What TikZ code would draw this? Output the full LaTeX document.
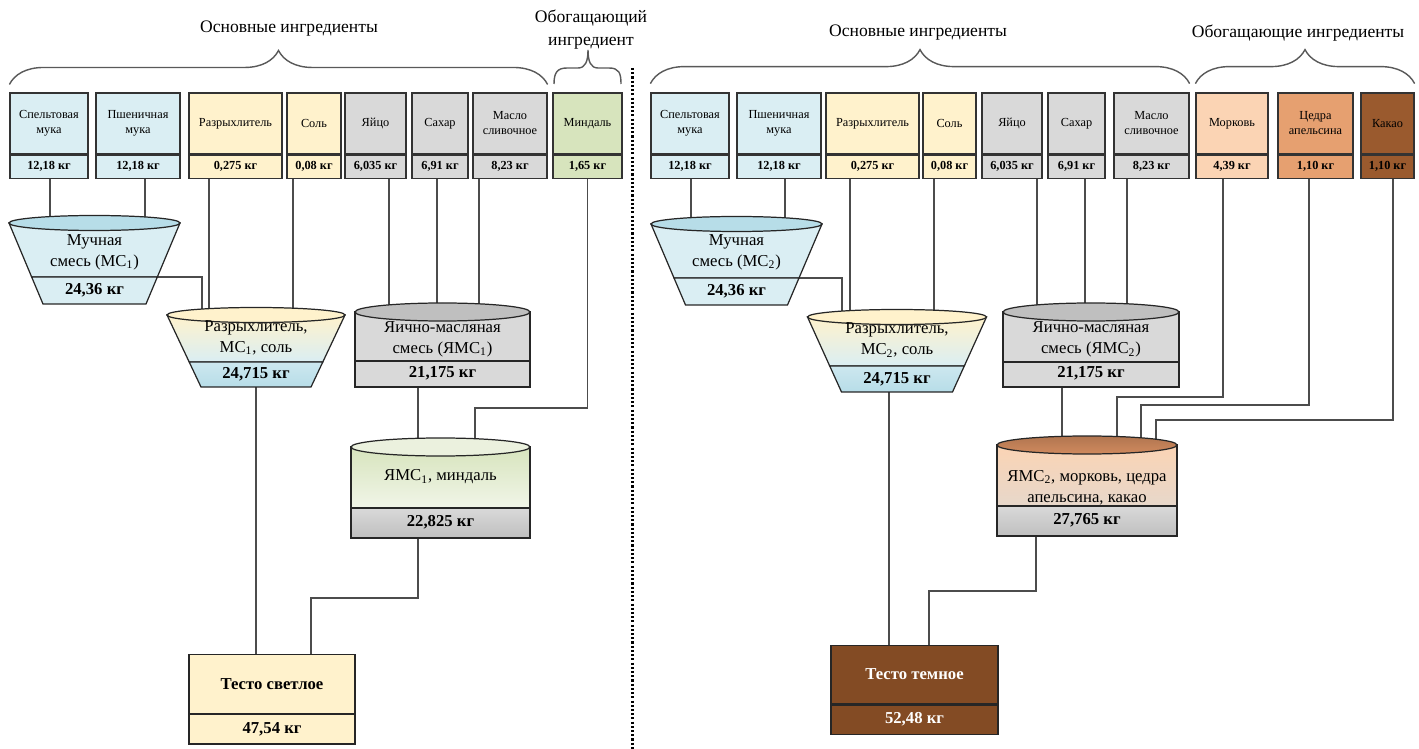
\documentclass[tikz,border=0pt]{standalone}
\usepackage{fontspec}
\setmainfont{Liberation Serif}
\usetikzlibrary{positioning,decorations.pathreplacing}
\pgfdeclarelayer{bg}
\pgfsetlayers{bg,main}

% ingredient box: name, left x, right x, fill, label, mass
\newcommand\ingbox[6]{%
  \node[ingtop, fill=#4, minimum width={(#3-#2)*0.02cm}] (#1) at ({(#2+#3)/2},123.5) {#5};
  \node[ingwt, fill=#4, minimum width={(#3-#2)*0.02cm}, below=0pt of #1] (#1w) {#6};}

% mixing cone: name, cx, top y, top half width, divider y, bottom y, bottom half width, colour set
\newcommand\mixcone[8]{%
  \pgfmathsetmacro\cdw{#4+(#7-#4)*(#5-#3)/(#6-#3)}
  \path[#8 body, vessel] ({#2-#4},#3) -- ({#2+#4},#3) -- ({#2+\cdw},#5) -- ({#2-\cdw},#5) -- cycle;
  \path[#8 low, vessel] ({#2-\cdw},#5) -- ({#2+\cdw},#5) -- ({#2+#7},#6) -- ({#2-#7},#6) -- cycle;
  \path[#8 top, vessel] (#2,#3) ellipse [x radius=#4, y radius=7.5];
  \coordinate (#1-top) at (#2,#3);
  \coordinate (#1-bot) at (#2,#6);
  \coordinate (#1-dr) at ({#2+\cdw},#5);}

% mixing drum: name, left x, right x, top y, divider y, bottom y, colour set
\newcommand\mixdrum[7]{%
  \path[#7 body, vessel] (#2,#4) rectangle (#3,#5);
  \path[#7 low, vessel] (#2,#5) rectangle (#3,#6);
  \path[#7 top, vessel] ({(#2+#3)/2},#4) ellipse [x radius={(#3-#2)/2}, y radius=9];
  \coordinate (#1-top) at ({(#2+#3)/2},#4);
  \coordinate (#1-bot) at ({(#2+#3)/2},#6);}

\begin{document}
\begin{tikzpicture}[x=0.02cm, y=-0.02cm,
    ingtop/.style={draw=black!80, line width=0.7pt, minimum height=1.22cm, align=center,
      inner sep=1pt, font=\fontsize{7}{8.5}\selectfont},
    ingwt/.style={draw=black!80, line width=0.7pt, minimum height=0.46cm, inner sep=1pt,
      font=\fontsize{7}{8.5}\selectfont\bfseries},
    mixtxt/.style={align=center, font=\fontsize{9.5}{12}\selectfont},
    mixwt/.style={font=\fontsize{9.5}{12}\selectfont\bfseries},
    doughtop/.style={draw=black!85, line width=0.7pt, minimum height=1.17cm,
      font=\fontsize{9.5}{12}\selectfont\bfseries},
    doughwt/.style={draw=black!85, line width=0.7pt, minimum height=0.59cm,
      font=\fontsize{9.5}{12}\selectfont\bfseries},
    head/.style={align=center, font=\fontsize{10}{13}\selectfont},
    conn/.style={draw=black!70, line width=0.75pt},
    vessel/.style={draw=black!85, line width=0.7pt},
    grpbrace/.style={draw=black!65, line width=0.8pt, decorate, decoration={brace, amplitude=0.68cm}},
    splitline/.style={line width=1.7pt, dash pattern=on 1.2pt off 1.2pt},
    flour top/.style={fill=flourdeep},
    flour body/.style={fill=flourblue},
    flour low/.style={fill=flourblue},
    mix top/.style={fill=leaven},
    mix body/.style={top color=leaven, bottom color=flourblue},
    mix low/.style={top color=flourdeep!70, bottom color=flourdeep},
    egg top/.style={fill=eggdeep},
    egg body/.style={fill=eggrey},
    egg low/.style={fill=eggrey},
    alm top/.style={fill=almondlt},
    alm body/.style={top color=almond, bottom color=almondlt!70!white},
    alm low/.style={top color=eggrey, bottom color=eggdeep},
    rich top/.style={top color=clay!85!black, bottom color=clay},
    rich body/.style={top color=carrot, bottom color=carrot!40!eggrey},
    rich low/.style={top color=eggrey, bottom color=eggdeep}]
  \definecolor{flourblue}{HTML}{DAEEF3}
  \definecolor{flourdeep}{HTML}{B7DDE8}
  \definecolor{leaven}{HTML}{FFF2CC}
  \definecolor{eggrey}{HTML}{D9D9D9}
  \definecolor{eggdeep}{HTML}{BFBFBF}
  \definecolor{almond}{HTML}{D7E4BD}
  \definecolor{almondlt}{HTML}{EBF1DE}
  \definecolor{carrot}{HTML}{FBD4B4}
  \definecolor{zest}{HTML}{E6A070}
  \definecolor{cocoa}{HTML}{9A5A2E}
  \definecolor{clay}{HTML}{D08A5E}
  \definecolor{darkdough}{HTML}{834B24}

  \useasboundingbox (0,0) rectangle (1419,749);

  % светлое тесто: ингредиенты
  \ingbox{sp1}{10}{88}{flourblue}{Спельтовая\\мука}{12,18 кг}
  \ingbox{ps1}{96}{180}{flourblue}{Пшеничная\\мука}{12,18 кг}
  \ingbox{rz1}{189}{282}{leaven}{Разрыхлитель}{0,275 кг}
  \ingbox{sl1}{287}{341}{leaven}{Соль}{0,08 кг}
  \ingbox{eg1}{345}{406}{eggrey}{Яйцо}{6,035 кг}
  \ingbox{su1}{412}{468}{eggrey}{Сахар}{6,91 кг}
  \ingbox{bt1}{473}{547}{eggrey}{Масло\\сливочное}{8,23 кг}
  \ingbox{al1}{553}{622}{almond}{Миндаль}{1,65 кг}

  \node[head] (hd1) at (289,29) {Основные ингредиенты};
  \node[head] (hd2) at (591,30) {Обогащающий\\ингредиент};
  \draw[grpbrace] ([yshift=4.5pt]sp1.north west) -- ([yshift=4.5pt]bt1.north east);
  \draw[draw=black!65, line width=0.8pt] (554,84) .. controls (554,73) and (557,68) .. (567,68) -- (578,68)
    .. controls (585,68) and (588,62) .. (588,50) .. controls (588,62) and (591,68) .. (598,68) -- (609,68)
    .. controls (619,68) and (621,73) .. (621,84);

  % светлое тесто: смеси
  \mixcone{ms1}{94.5}{223}{85.5}{277}{304}{51.5}{flour}
  \node[mixtxt] (ms1t) at (94.5,252) {Мучная\\смесь (МС\textsubscript{1})};
  \node[mixwt] (ms1w) at (94.5,290) {24,36 кг};

  \mixcone{mx1}{256}{315}{89}{362}{387}{55}{mix}
  \node[mixtxt] (mx1t) at (256,338) {Разрыхлитель,\\МС\textsubscript{1}, соль};
  \node[mixwt] (mx1w) at (256,374) {24,715 кг};

  \mixdrum{ym1}{355}{530}{312}{361}{387}{egg}
  \node[mixtxt] (ym1t) at (442.5,339.5) {Яично-масляная\\смесь (ЯМС\textsubscript{1})};
  \node[mixwt] (ym1w) at (442.5,373) {21,175 кг};

  \mixdrum{ya1}{351}{530}{447}{508}{538}{alm}
  \node[mixtxt] (ya1t) at (440.5,477) {ЯМС\textsubscript{1}, миндаль};
  \node[mixwt] (ya1w) at (440.5,522) {22,825 кг};

  \node[doughtop, fill=leaven, minimum width=3.32cm] (ts1) at (272,684) {Тесто светлое};
  \node[doughwt, fill=leaven, minimum width=3.32cm, below=0pt of ts1] (ts1w) {47,54 кг};

  % разделитель
  \draw[splitline] (632,68) -- (632,749);

  % темное тесто: ингредиенты
  \ingbox{sp2}{651}{729}{flourblue}{Спельтовая\\мука}{12,18 кг}
  \ingbox{ps2}{737}{821}{flourblue}{Пшеничная\\мука}{12,18 кг}
  \ingbox{rz2}{826}{919}{leaven}{Разрыхлитель}{0,275 кг}
  \ingbox{sl2}{923}{976}{leaven}{Соль}{0,08 кг}
  \ingbox{eg2}{982}{1042}{eggrey}{Яйцо}{6,035 кг}
  \ingbox{su2}{1048}{1105}{eggrey}{Сахар}{6,91 кг}
  \ingbox{bt2}{1114}{1189}{eggrey}{Масло\\сливочное}{8,23 кг}
  \ingbox{mk2}{1196}{1268}{carrot}{Морковь}{4,39 кг}
  \ingbox{cd2}{1278}{1353}{zest}{Цедра\\апельсина}{1,10 кг}
  \ingbox{ca2}{1361}{1414}{cocoa}{Какао}{1,10 кг}

  \node[head] (hd3) at (918,33) {Основные ингредиенты};
  \node[head] (hd4) at (1298,33) {Обогащающие ингредиенты};
  \draw[grpbrace] ([yshift=5pt]sp2.north west) -- ([yshift=5pt]bt2.north east);
  \draw[grpbrace] ([yshift=5pt]mk2.north west) -- ([yshift=5pt]ca2.north east);

  % темное тесто: смеси
  \mixcone{ms2}{736.5}{224}{85.5}{278}{305}{51}{flour}
  \node[mixtxt] (ms2t) at (736.5,252) {Мучная\\смесь (МС\textsubscript{2})};
  \node[mixwt] (ms2w) at (736.5,291) {24,36 кг};

  \mixcone{mx2}{897}{317}{89.5}{366}{392}{55.5}{mix}
  \node[mixtxt] (mx2t) at (897,340) {Разрыхлитель,\\МС\textsubscript{2}, соль};
  \node[mixwt] (mx2w) at (897,379) {24,715 кг};

  \mixdrum{ym2}{1003}{1179}{312}{362}{387}{egg}
  \node[mixtxt] (ym2t) at (1091,339.5) {Яично-масляная\\смесь (ЯМС\textsubscript{2})};
  \node[mixwt] (ym2w) at (1091,373) {21,175 кг};

  \mixdrum{ya2}{997}{1177}{445}{506}{536}{rich}
  \node[mixtxt] (ya2t) at (1087,487.5) {ЯМС\textsubscript{2}, морковь, цедра\\апельсина, какао};
  \node[mixwt] (ya2w) at (1087,520) {27,765 кг};

  \node[doughtop, fill=darkdough, text=white, minimum width=3.34cm] (ts2) at (914.5,674.5) {Тесто темное};
  \node[doughwt, fill=darkdough, text=white, minimum width=3.34cm, below=0pt of ts2] (ts2w) {52,48 кг};

  % связи
  \begin{pgfonlayer}{bg}
    \draw[conn] (50,0 |- sp1w.south) -- (50,0 |- ms1-top);
    \draw[conn] (145,0 |- ps1w.south) -- (145,0 |- ms1-top);
    \draw[conn] (209,0 |- rz1w.south) -- (209,0 |- mx1-top);
    \draw[conn] (293,0 |- sl1w.south) -- (293,0 |- mx1-top);
    \draw[conn] (389,0 |- eg1w.south) -- (389,0 |- ym1-top);
    \draw[conn] (437,0 |- su1w.south) -- (437,0 |- ym1-top);
    \draw[conn] (479,0 |- bt1w.south) -- (479,0 |- ym1-top);
    \draw[conn] (ms1-dr) -| (202,0 |- mx1-top);
    \draw[conn] (418,0 |- ym1-bot) -- (418,0 |- ya1-top);
    \draw[conn] (al1w.south) |- (475,408) -- (475,0 |- ya1-top);
    \draw[conn] (mx1-bot) -- (mx1-bot |- ts1.north);
    \draw[conn] (418,0 |- ya1-bot) |- (311,598) -- (311,0 |- ts1.north);

    \draw[conn] (691,0 |- sp2w.south) -- (691,0 |- ms2-top);
    \draw[conn] (785,0 |- ps2w.south) -- (785,0 |- ms2-top);
    \draw[conn] (850,0 |- rz2w.south) -- (850,0 |- mx2-top);
    \draw[conn] (934,0 |- sl2w.south) -- (934,0 |- mx2-top);
    \draw[conn] (1037,0 |- eg2w.south) -- (1037,0 |- ym2-top);
    \draw[conn] (1085,0 |- su2w.south) -- (1085,0 |- ym2-top);
    \draw[conn] (1127,0 |- bt2w.south) -- (1127,0 |- ym2-top);
    \draw[conn] (ms2-dr) -| (842,0 |- mx2-top);
    \draw[conn] (1062,0 |- ym2-bot) -- (1062,0 |- ya2-top);
    \draw[conn] (1223,0 |- mk2w.south) |- (1117,397) -- (1117,0 |- ya2-top);
    \draw[conn] (1309,0 |- cd2w.south) |- (1141,405) -- (1141,0 |- ya2-top);
    \draw[conn] (1393,0 |- ca2w.south) |- (1156,420) -- (1156,0 |- ya2-top);
    \draw[conn] (889,0 |- mx2-bot) -- (889,0 |- ts2.north);
    \draw[conn] (1036,0 |- ya2-bot) |- (929,591) -- (929,0 |- ts2.north);
  \end{pgfonlayer}
\end{tikzpicture}
\end{document}
